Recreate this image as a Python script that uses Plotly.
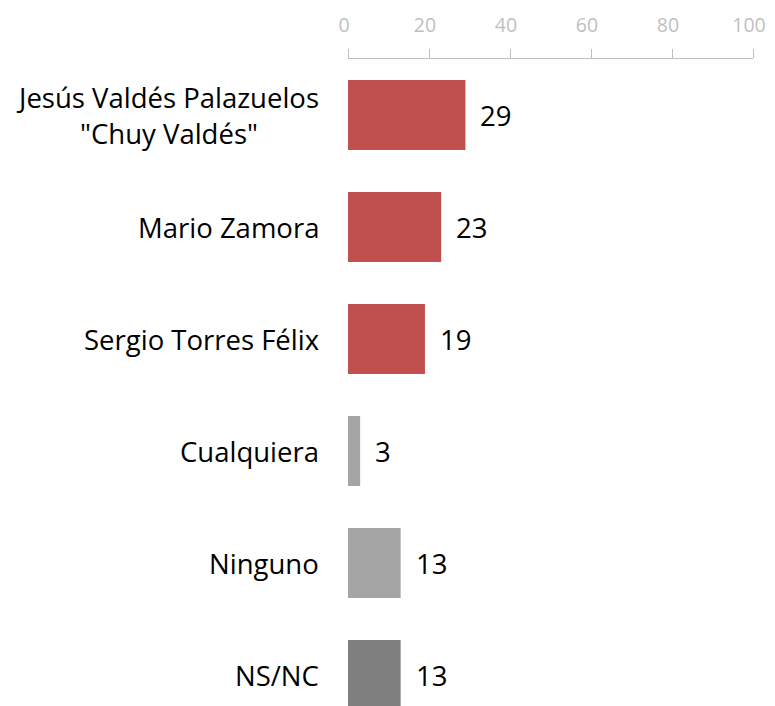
import plotly.graph_objects as go

categories = ['Jesús Valdés Palazuelos<br>"Chuy Valdés"', "Mario Zamora", "Sergio Torres Félix",
              "Cualquiera", "Ninguno", "NS/NC"]
values = [29, 23, 19, 3, 13, 13]
colors = ["#C0504D", "#C0504D", "#C0504D", "#A5A5A5", "#A5A5A5", "#7F7F7F"]
tick_vals = [0, 20, 40, 60, 80, 100]

FONT = "Open Sans"
pos = list(range(len(categories)))

fig = go.Figure()
fig.add_trace(go.Bar(
    x=values, y=pos, orientation="h", marker=dict(color=colors, line=dict(width=0)),
    width=0.625, hoverinfo="skip",
))

annotations = []
for p, v in zip(pos, values):
    annotations.append(dict(x=v, y=p, xref="x", yref="y", text=str(v), showarrow=False,
                            xanchor="left", yanchor="middle", xshift=13,
                            font=dict(family=FONT, size=27.5, color="#000000")))
for p, c in zip(pos, categories):
    annotations.append(dict(x=0, y=p, xref="paper", yref="y", text=c, showarrow=False,
                            xanchor="right", yanchor="middle", xshift=-27, align="center",
                            font=dict(family=FONT, size=27.5, color="#000000")))

# page body has an 8px margin, so the figure is sized and placed to compensate
fig.update_layout(
    width=767, height=698,
    margin=dict(l=339.5, r=21.5, t=50.5, b=0, autoexpand=False),
    paper_bgcolor="white", plot_bgcolor="white",
    showlegend=False,
    annotations=annotations,
    xaxis=dict(range=[0, 100], side="top", tickvals=tick_vals, ticks="outside", ticklen=9,
               tickcolor="#BFBFBF", showline=True, linecolor="#BFBFBF", linewidth=1,
               showgrid=False, zeroline=False, ticklabelstandoff=9, automargin=False,
               ticklabeloverflow="allow", ticklabelshift=-4,
               tickfont=dict(family=FONT, size=19.5, color="#BFBFBF")),
    yaxis=dict(range=[(706 - 58.5) / 112.1 - 0.5, -0.5], showticklabels=False, showgrid=False,
               zeroline=False, showline=False, ticks="", automargin=False),
)

fig.write_html("out.html", config={"displayModeBar": False})
